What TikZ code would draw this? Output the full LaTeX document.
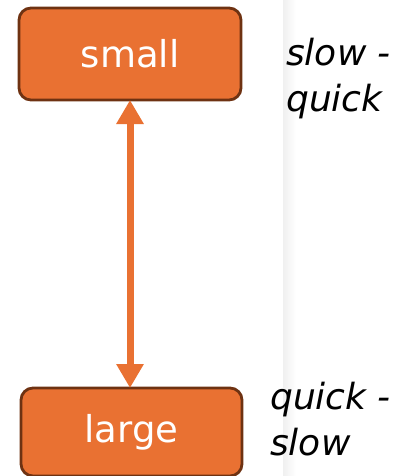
\documentclass[tikz,border=0pt]{standalone}
\usepackage{fontspec}
\setmainfont{DejaVu Sans}
\usetikzlibrary{arrows.meta}
\definecolor{boxfill}{HTML}{E97132}
\definecolor{boxline}{HTML}{6E3212}
\tikzset{
  boxnode/.style={draw=boxline, fill=boxfill, line width=2.8pt, rounded corners=12pt,
    text=white, font=\fontsize{37}{44}\selectfont, inner sep=0pt, outer sep=0pt},
  sidetext/.style={font=\fontsize{36}{46}\selectfont\itshape, align=left, inner sep=0pt, anchor=base west},
  link/.style={draw=boxfill, line width=7pt, {Triangle[width=26pt,length=24pt]}-{Triangle[width=26pt,length=24pt]}}
}
\begin{document}
\begin{tikzpicture}[x=1pt,y=-1pt]
\useasboundingbox (0,0) rectangle (406,476);
\shade[left color=black!6, right color=white] (283,0) rectangle (296,476);
\node[boxnode, minimum width=222pt, minimum height=92pt] (small) at (130,54) {small};
\node[boxnode, minimum width=221pt, minimum height=88pt] (large) at (131.5,432) {large};
\draw[link] (small.south) -- (small.south |- large.north);
\node[sidetext] (t1) at (286,112) {slow -\\quick};
\node[sidetext] (t2) at (270,455) {quick -\\slow};
\end{tikzpicture}
\end{document}
